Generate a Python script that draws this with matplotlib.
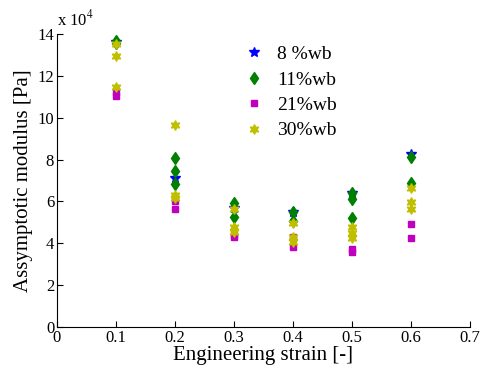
import numpy as np
import matplotlib
matplotlib.use('Agg')
import matplotlib.pyplot as plt

plt.rcParams['font.family'] = ['Liberation Serif', 'DejaVu Serif']
plt.rcParams['mathtext.fontset'] = 'stix'

# Engineering strain and asymptotic modulus (x 10^4 Pa), one list per moisture content
strain_8 = [0.1, 0.2, 0.3, 0.4, 0.5, 0.6]
mod_8 = [13.62, 7.1, 5.7, 5.5, 6.4, 8.27]

strain_11 = [0.1, 0.1, 0.2, 0.2, 0.2, 0.3, 0.3, 0.4, 0.4, 0.5, 0.5, 0.5, 0.6, 0.6]
mod_11 = [13.65, 13.58, 8.06, 7.44, 6.85, 5.92, 5.25, 5.5, 5.05, 6.4, 6.1, 5.2, 8.1, 6.88]

strain_21 = [0.1, 0.1, 0.2, 0.2, 0.3, 0.3, 0.4, 0.4, 0.5, 0.5, 0.6, 0.6]
mod_21 = [11.25, 11.05, 6.0, 5.64, 4.4, 4.3, 4.3, 3.82, 3.7, 3.6, 4.92, 4.25]

strain_30 = [0.1, 0.1, 0.1, 0.2, 0.2, 0.2, 0.3, 0.3, 0.3, 0.4, 0.4, 0.4, 0.5, 0.5, 0.5, 0.6, 0.6, 0.6]
mod_30 = [13.5, 12.96, 11.48, 9.65, 6.3, 6.17, 5.65, 4.78, 4.55, 4.97, 4.3, 4.07, 4.78, 4.5, 4.25, 6.64, 5.97, 5.64]

labels = ['8 %wb', '11%wb', '21%wb', '30%wb']

fig = plt.figure(figsize=(4.83, 3.74), dpi=100)
ax = fig.add_axes([0.118, 0.126, 0.855, 0.783])

ax.plot(strain_8, mod_8, linestyle='none', marker='*', color='blue', markersize=7, label=labels[0])
ax.plot(strain_11, mod_11, linestyle='none', marker='d', color=(0, 0.5, 0), markersize=6, label=labels[1])
ax.plot(strain_21, mod_21, linestyle='none', marker='s', color=(0.75, 0, 0.75), markersize=5, label=labels[2])
ax.plot(strain_30, mod_30, linestyle='none', marker=(6, 1, 0), color=(0.75, 0.75, 0), markersize=7, label=labels[3])

ax.set_xlim(0, 0.7)
ax.set_ylim(0, 14)
ax.set_xticks(np.arange(0, 0.71, 0.1))
ax.set_xticklabels(['0', '0.1', '0.2', '0.3', '0.4', '0.5', '0.6', '0.7'])
ax.set_yticks(np.arange(0, 15, 2))
ax.tick_params(direction='in', labelsize=12, length=4, width=0.8, pad=2)
for side in ['top', 'right']:
    ax.spines[side].set_visible(False)

ax.set_xlabel('Engineering strain [-]', fontsize=15, labelpad=0)
ax.set_ylabel('Assymptotic modulus [Pa]', fontsize=15, labelpad=3)
ax.text(0.0, 1.015, r'x 10$^4$', transform=ax.transAxes, fontsize=12, ha='left', va='bottom')

ax.legend(loc='upper left', bbox_to_anchor=(0.41, 1.02), frameon=False, fontsize=14,
          handlelength=1.0, handletextpad=0.7, labelspacing=0.4)

fig.savefig('out.png', dpi=100)
